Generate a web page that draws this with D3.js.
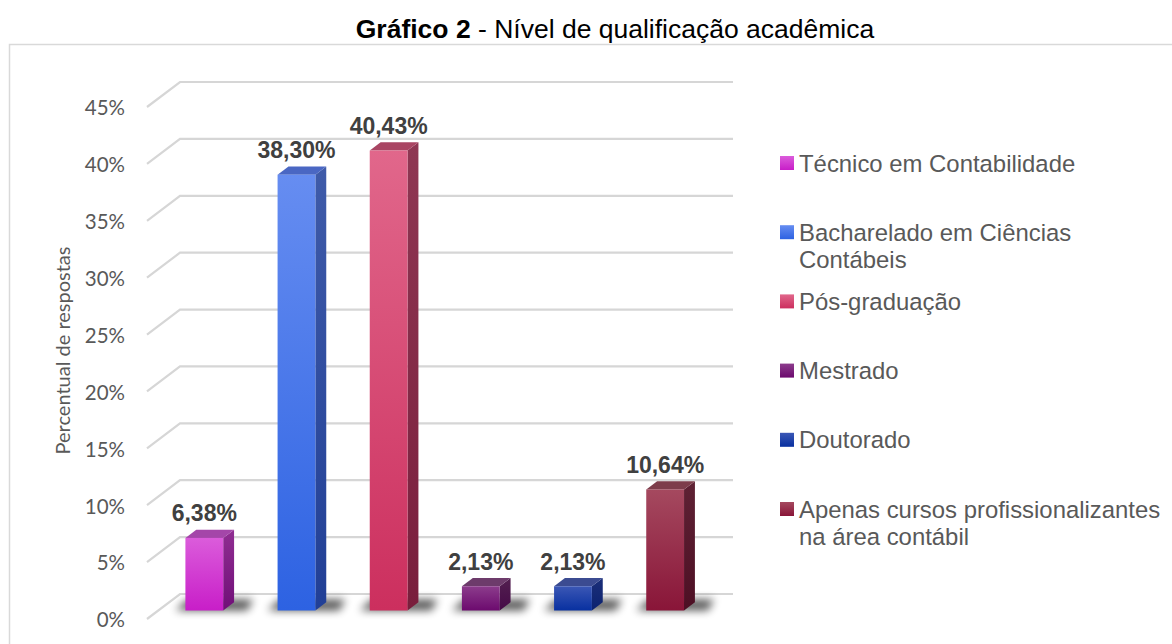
<!DOCTYPE html>
<html>
<head>
<meta charset="utf-8">
<script src="https://cdn.jsdelivr.net/npm/d3@7"></script>
<style>
  body { margin: 0; background: #fff; }
</style>
</head>
<body>
<svg id="chart"></svg>
<script>
const categories = [
  'Técnico em Contabilidade',
  'Bacharelado em Ciências Contábeis',
  'Pós-graduação',
  'Mestrado',
  'Doutorado',
  'Apenas cursos profissionalizantes na área contábil'
]
const values = [6.38, 38.30, 40.43, 2.13, 2.13, 10.64]
const yTicks = [0, 5, 10, 15, 20, 25, 30, 35, 40, 45]

// face colours per bar: front gradient, side gradient, top
const palette = [
  { front: ['#db5cdb', '#c81ec8'], side: ['#902e92', '#700f78'], top: '#a446a9' },
  { front: ['#668df1', '#2d62e2'], side: ['#3f5ba9', '#213f96'], top: '#4a67c3' },
  { front: ['#e1678b', '#cc2f5e'], side: ['#8f3753', '#791e3c'], top: '#a94563' },
  { front: ['#8c3c8c', '#6c0a6e'], side: ['#532050', '#450a47'], top: '#6d3b6b' },
  { front: ['#3b57b5', '#0830a0'], side: ['#1b2f79', '#0c2270'], top: '#3b4b91' },
  { front: ['#a5495f', '#891538'], side: ['#5f2234', '#4d0f24'], top: '#7d3d4b' }
]

const width = 1172, height = 644
const depth = { dx: 33, dy: 25 }      // floor depth, back wall -> front edge
const zFront = 0.66, zBack = 0.33     // bar depth on the floor

const svg = d3.select('#chart')
  .attr('width', width)
  .attr('height', height)
  .style('font-family', '"Liberation Sans", Arial, sans-serif')

const defs = svg.append('defs')

defs.append('filter')
  .attr('id', 'shadow')
  .attr('x', '-50%').attr('y', '-100%')
  .attr('width', '200%').attr('height', '300%')
  .append('feGaussianBlur')
  .attr('stdDeviation', 4.5)

palette.forEach((p, i) => {
  ;['front', 'side'].forEach(face => {
    const g = defs.append('linearGradient')
      .attr('id', `${face}${i}`)
      .attr('x1', 0).attr('y1', 0).attr('x2', 0).attr('y2', 1)
    g.append('stop').attr('offset', '0%').attr('stop-color', p[face][0])
    g.append('stop').attr('offset', '100%').attr('stop-color', p[face][1])
  })
})

// outer frame
svg.append('path')
  .attr('d', `M9.5,${height} V44.5 H${width}`)
  .attr('fill', 'none')
  .attr('stroke', '#d9d9d9')
  .attr('stroke-width', 1.5)

// title
const title = svg.append('text')
  .attr('x', 615)
  .attr('y', 38)
  .attr('text-anchor', 'middle')
  .attr('font-size', 26.5)
  .attr('fill', '#000')
title.append('tspan').attr('font-weight', 'bold').text('Gráfico 2')
title.append('tspan').text(' - Nível de qualificação acadêmica')

// scales (back wall coordinates)
const x = d3.scaleBand()
  .domain(categories)
  .range([180, 733])
  .paddingInner(0.59)
  .paddingOuter(0.295)

const y = d3.scaleLinear()
  .domain([0, 45])
  .range([594, 82])

// gridlines: diagonal on the side wall + back wall line
svg.append('g')
  .selectAll('path')
  .data(yTicks)
  .join('path')
  .attr('d', d => `M${180 - depth.dx},${y(d) + depth.dy} L180,${y(d)} H733`)
  .attr('fill', 'none')
  .attr('stroke', '#d6d6d6')
  .attr('stroke-width', 2.2)

// y tick labels
svg.append('g')
  .selectAll('text')
  .data(yTicks)
  .join('text')
  .attr('x', 125)
  .attr('y', d => y(d) + depth.dy + 1)
  .attr('dy', '0.36em')
  .attr('text-anchor', 'end')
  .attr('font-family', 'Lato, sans-serif')
  .attr('font-size', 20.5)
  .attr('fill', '#595959')
  .text(d => d + '%')

// y axis title
svg.append('text')
  .attr('transform', `translate(70,${(82 + 619) / 2}) rotate(-90)`)
  .attr('text-anchor', 'middle')
  .attr('font-family', 'Lato, sans-serif')
  .attr('font-size', 20)
  .attr('fill', '#595959')
  .text('Percentual de respostas')

// bars
const bw = x.bandwidth()
const px = (xb, z) => xb - depth.dx * z
const py = (v, z) => y(v) + depth.dy * z

const bars = svg.append('g')
  .selectAll('g')
  .data(categories.map((c, i) => ({ c, v: values[i], i })))
  .join('g')

// floor shadow
bars.append('path')
  .attr('d', d => {
    const x0 = px(x(d.c), zFront), x1 = x0 + bw
    const yb = py(0, zFront)
    return `M${x0 - 10},${yb} L${x1 + 24},${yb} L${x1 + 30},${yb - 11} L${x0 + 2},${yb - 11} Z`
  })
  .attr('fill', '#000')
  .attr('opacity', 0.65)
  .attr('filter', 'url(#shadow)')

// side face
bars.append('path')
  .attr('d', d => {
    const xf = px(x(d.c), zFront) + bw, xk = px(x(d.c), zBack) + bw
    return `M${xf},${py(d.v, zFront)} L${xk},${py(d.v, zBack)} L${xk},${py(0, zBack)} L${xf},${py(0, zFront)} Z`
  })
  .attr('fill', d => `url(#side${d.i})`)

// top face
bars.append('path')
  .attr('d', d => {
    const xf = px(x(d.c), zFront), xk = px(x(d.c), zBack)
    return `M${xf},${py(d.v, zFront)} L${xf + bw},${py(d.v, zFront)} L${xk + bw},${py(d.v, zBack)} L${xk},${py(d.v, zBack)} Z`
  })
  .attr('fill', d => palette[d.i].top)

// front face
bars.append('rect')
  .attr('x', d => px(x(d.c), zFront))
  .attr('y', d => py(d.v, zFront))
  .attr('width', bw)
  .attr('height', d => py(0, zFront) - py(d.v, zFront))
  .attr('fill', d => `url(#front${d.i})`)

// value labels
bars.append('text')
  .attr('x', d => px(x(d.c), zFront) + bw / 2)
  .attr('y', d => py(d.v, zBack) - 8.5)
  .attr('text-anchor', 'middle')
  .attr('font-size', 23)
  .attr('font-weight', 'bold')
  .attr('fill', '#404040')
  .text(d => d.v.toFixed(2).replace('.', ',') + '%')

// legend
const legend = svg.append('g')
  .selectAll('g')
  .data(categories)
  .join('g')
  .attr('transform', (d, i) => `translate(780,${163 + i * 69.2})`)

legend.append('rect')
  .attr('x', 0)
  .attr('y', -7)
  .attr('width', 14)
  .attr('height', 14)
  .attr('fill', (d, i) => `url(#front${i})`)

legend.append('text')
  .attr('x', 19)
  .attr('font-size', 23.9)
  .attr('fill', '#595959')
  .each(function (d) {
    // wrap words to the legend width
    const t = d3.select(this)
    const words = d.split(' ')
    let line = []
    let tspan = t.append('tspan').attr('x', 19).attr('dy', '0.36em')
    words.forEach(w => {
      line.push(w)
      tspan.text(line.join(' '))
      if (tspan.node().getComputedTextLength() > 368 && line.length > 1) {
        line.pop()
        tspan.text(line.join(' '))
        line = [w]
        tspan = t.append('tspan').attr('x', 19).attr('dy', 27).text(w)
      }
    })
  })
</script>
</body>
</html>
